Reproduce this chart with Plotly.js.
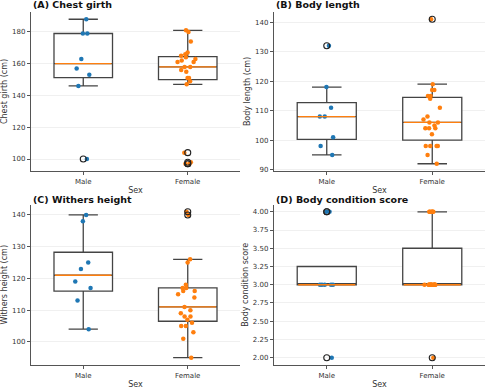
<!DOCTYPE html>
<html>
<head>
<meta charset="utf-8">
<script src="https://cdn.plot.ly/plotly-3.0.1.min.js"></script>
<style>html,body{margin:0;padding:0;background:#fff;}#chart{width:490px;height:390px;}</style>
</head>
<body>
<div id="chart"></div>
<script>
// ---- data ----
const categories = ['Male', 'Female'];
const panelTitles = ['(A) Chest girth', '(B) Body length', '(C) Withers height', '(D) Body condition score'];
const yTitles = ['Chest girth (cm)', 'Body length (cm)', 'Withers height (cm)', 'Body condition score'];
const xTitle = 'Sex';

const chestMale = [188, 179, 179, 163, 157, 153, 146, 100];
const chestFemale = [97, 97, 98, 104, 147, 149, 151, 151, 155, 156, 158, 158, 161, 161, 162, 163, 164, 165, 166, 167, 174, 180, 181];
const lengthMale = [132, 118, 111, 108, 108, 101, 98, 95];
const lengthFemale = [92, 95, 98, 98, 98, 98, 102, 104, 104, 104, 105, 106, 106, 107, 108, 111, 114, 115, 115, 117, 117, 119, 141];
const heightMale = [140, 138, 125, 123, 119, 117, 113, 104];
const heightFemale = [95, 101, 103, 105, 105, 106, 107, 108, 108, 109, 110, 111, 114, 115, 116, 116, 117, 117, 118, 125, 126, 140, 141];
const bcsMale = [4, 4, 3, 3, 3, 3, 3, 2];
const bcsFemale = [2, 3, 3, 3, 3, 3, 3, 3, 3, 3, 3, 3, 3, 3, 3, 3, 3, 4, 4, 4, 4, 4, 4];

const yTickVals = [
  [100, 120, 140, 160, 180],
  [90, 100, 110, 120, 130, 140],
  [100, 110, 120, 130, 140],
  [2.00, 2.25, 2.50, 2.75, 3.00, 3.25, 3.50, 3.75, 4.00]
];

// ---- styles ----
const COLORS = ['#1f77b4', '#ff7f0e'];
const MEDIAN_COLOR = '#ff7f0e';
const BOX_LINE = '#444444';
const FONT = 'DejaVu Sans, Liberation Sans, sans-serif';
const BOX_W = 0.56;

const panels = [
  [chestMale, chestFemale],
  [lengthMale, lengthFemale],
  [heightMale, heightFemale],
  [bcsMale, bcsFemale]
];

function quantile(sorted, p) {
  const pos = (sorted.length - 1) * p;
  const lo = Math.floor(pos), hi = Math.ceil(pos);
  return sorted[lo] + (sorted[hi] - sorted[lo]) * (pos - lo);
}
function stats(arr) {
  const s = arr.slice().sort((a, b) => a - b);
  const q1 = quantile(s, 0.25), med = quantile(s, 0.5), q3 = quantile(s, 0.75);
  const iqr = q3 - q1;
  const loF = q1 - 1.5 * iqr, hiF = q3 + 1.5 * iqr;
  const inLo = s.filter(v => v >= loF), inHi = s.filter(v => v <= hiF);
  let wlo = inLo.length ? Math.min(...inLo) : q1; if (wlo > q1) wlo = q1;
  let whi = inHi.length ? Math.max(...inHi) : q3; if (whi < q3) whi = q3;
  const fliers = s.filter(v => v < wlo || v > whi);
  return {q1, med, q3, wlo, whi, fliers};
}

const traces = [];
const layout = {
  width: 490, height: 390,
  margin: {l: 0, r: 0, t: 0, b: 0},
  paper_bgcolor: '#ffffff', plot_bgcolor: '#ffffff',
  showlegend: false,
  font: {family: FONT, size: 7, color: '#333333'},
  boxmode: 'overlay',
  annotations: []
};

const W = 490, H = 390;
const xDomPx = [[31, 240], [274, 485], [31, 240], [274, 485]];
const yDomPx = [[12, 171], [12, 171], [204.5, 365], [204.5, 365]];
const titleYPx = [5, 5, 199, 199];

panels.forEach((groups, p) => {
  const sfx = p === 0 ? '' : String(p + 1);
  const xa = 'x' + sfx, ya = 'y' + sfx;
  let all = [];
  groups.forEach((g, gi) => {
    all = all.concat(g);
    const st = stats(g);
    // box
    traces.push({
      type: 'box', xaxis: xa, yaxis: ya,
      x: [gi], q1: [st.q1], median: [st.med], q3: [st.q3],
      lowerfence: [st.wlo], upperfence: [st.whi],
      width: BOX_W, whiskerwidth: 0.5, boxpoints: false,
      fillcolor: '#ffffff', line: {color: BOX_LINE, width: 1.3},
      hoverinfo: 'skip'
    });
    // median
    traces.push({
      type: 'scatter', mode: 'lines', xaxis: xa, yaxis: ya,
      x: [gi - BOX_W / 2 + 0.01, gi + BOX_W / 2 - 0.01], y: [st.med, st.med],
      line: {color: MEDIAN_COLOR, width: 1.3}, hoverinfo: 'skip'
    });
    // strip points
    traces.push({
      type: 'box', xaxis: xa, yaxis: ya,
      x: g.map(() => gi), y: g,
      width: 0.2, boxpoints: 'all', jitter: 1, pointpos: 0,
      fillcolor: 'rgba(0,0,0,0)', line: {color: 'rgba(0,0,0,0)', width: 0},
      marker: {color: COLORS[gi], size: 4.5},
      hoverinfo: 'skip'
    });
    // outliers
    traces.push({
      type: 'scatter', mode: 'markers', xaxis: xa, yaxis: ya,
      x: st.fliers.map(() => gi), y: st.fliers,
      marker: {symbol: 'circle-open', size: 6, color: '#222222', line: {width: 1.1}},
      hoverinfo: 'skip'
    });
  });
  const lo = Math.min(...all), hi = Math.max(...all), pad = 0.05 * (hi - lo);
  const xd = xDomPx[p], yd = yDomPx[p];
  layout['xaxis' + sfx] = {
    domain: [xd[0] / W, xd[1] / W], anchor: ya,
    range: [-0.5, 1.5], tickvals: [0, 1], ticktext: categories,
    showgrid: false, zeroline: false, showline: true, linecolor: '#555555', linewidth: 1.2,
    ticks: 'outside', ticklen: 3, tickcolor: '#555555', tickfont: {size: 7, color: '#333333'},
    title: {text: xTitle, font: {size: 8, color: '#333333'}, standoff: 2},
    automargin: false, fixedrange: true
  };
  layout['yaxis' + sfx] = {
    domain: [1 - yd[1] / H, 1 - yd[0] / H], anchor: xa,
    range: [lo - pad, hi + pad], tickvals: yTickVals[p],
    tickformat: p === 3 ? '.2f' : 'd',
    showgrid: true, gridcolor: '#ececec', gridwidth: 0.8, zeroline: false,
    showline: true, linecolor: '#555555', linewidth: 1.2,
    ticks: 'outside', ticklen: 3, tickcolor: '#555555', tickfont: {size: 7, color: '#333333'},
    title: {text: yTitles[p], font: {size: 8, color: '#333333'}, standoff: 3},
    automargin: false, fixedrange: true
  };
  layout.annotations.push({
    xref: 'paper', yref: 'paper', x: xd[0] / W, y: 1 - titleYPx[p] / H,
    xanchor: 'left', yanchor: 'middle', showarrow: false,
    text: '<b>' + panelTitles[p] + '</b>',
    font: {size: 9.5, color: '#111111', family: FONT}
  });
});

Plotly.newPlot('chart', traces, layout, {staticPlot: true, displayModeBar: false});
</script>
</body>
</html>
